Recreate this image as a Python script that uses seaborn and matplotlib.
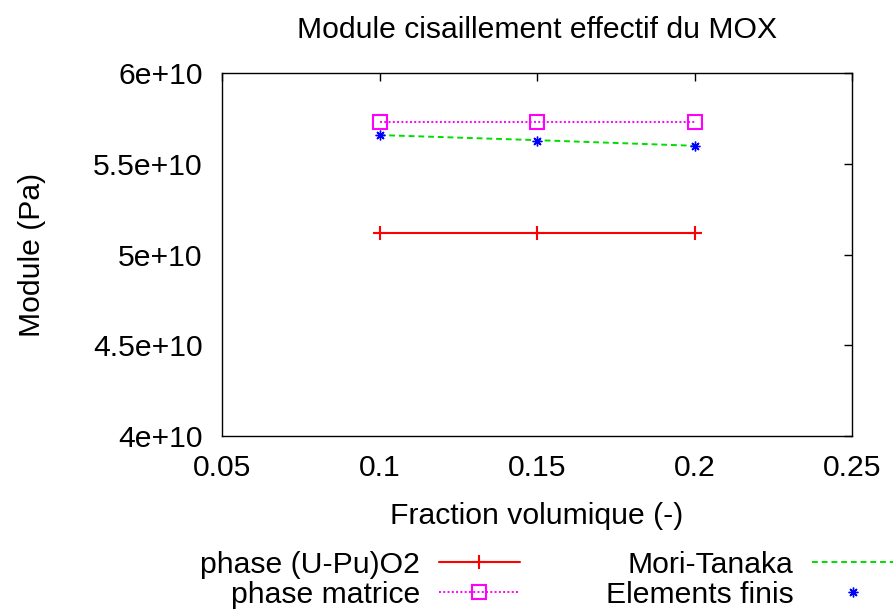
import matplotlib
matplotlib.use("Agg")
import matplotlib.pyplot as plt
import seaborn as sns
import pandas as pd
from matplotlib.ticker import FuncFormatter, MultipleLocator

# ---- data ----
fractions = [0.1, 0.15, 0.2]
phase_upuo2 = [5.118e10, 5.118e10, 5.118e10]
phase_matrice = [5.730e10, 5.730e10, 5.730e10]
mori_tanaka = [5.658e10, 5.630e10, 5.599e10]
elements_finis = [5.658e10, 5.628e10, 5.598e10]

title = "Module cisaillement effectif du MOX"
xlabel = "Fraction volumique (-)"
ylabel = "Module (Pa)"
series_names = ["phase (U-Pu)O2", "phase matrice", "Mori-Tanaka", "Elements finis"]

sns.set_style("white")
plt.rcParams["font.family"] = ["Liberation Sans", "DejaVu Sans"]
plt.rcParams["text.color"] = "black"
plt.rcParams["axes.labelcolor"] = "black"
plt.rcParams["xtick.color"] = "black"
plt.rcParams["ytick.color"] = "black"
FS = 21.7

fig = plt.figure(figsize=(8.93, 6.09), dpi=100)
ax = fig.add_axes([222 / 893, 1 - 436 / 609, (852 - 222) / 893, (436 - 73) / 609])

df = pd.DataFrame({"x": fractions, "a": phase_upuo2, "b": phase_matrice,
                   "c": mori_tanaka, "d": elements_finis})

sns.lineplot(data=df, x="x", y="a", ax=ax, color="#ff0000", lw=1.5,
             marker="+", markersize=9.5, markeredgewidth=1.5, markeredgecolor="#ff0000",
             label=series_names[0], estimator=None, sort=False)
sns.lineplot(data=df, x="x", y="b", ax=ax, color="#ff00ff", lw=1.4, linestyle=(0, (1, 1.2)),
             marker="s", markersize=10, markerfacecolor="none", markeredgecolor="#ff00ff",
             markeredgewidth=1.5, label=series_names[1], estimator=None, sort=False)
sns.lineplot(data=df, x="x", y="c", ax=ax, color="#00dd00", lw=1.4, linestyle=(0, (3, 2)),
             label=series_names[2], estimator=None, sort=False)
sns.lineplot(data=df, x="x", y="d", ax=ax, color="#0000ff", linestyle="",
             marker=(8, 2, 0), markersize=7, markeredgewidth=1.0, markeredgecolor="#0000ff",
             label=series_names[3], estimator=None, sort=False)

ax.set_xlim(0.05, 0.25)
ax.set_ylim(4e10, 6e10)
ax.xaxis.set_major_locator(MultipleLocator(0.05))
ax.yaxis.set_major_locator(MultipleLocator(0.5e10))


def yfmt(v, pos):
    m = v / 1e10
    if abs(m - round(m)) < 1e-9:
        return f"{int(round(m))}e+10"
    return f"{m:g}e+10"


def xfmt(v, pos):
    return f"{v:g}"


ax.yaxis.set_major_formatter(FuncFormatter(yfmt))
ax.xaxis.set_major_formatter(FuncFormatter(xfmt))
ax.tick_params(direction="in", length=6, width=1, top=True, right=True,
               labelsize=FS, colors="black")
ax.tick_params(axis="y", pad=14)
ax.tick_params(axis="x", pad=13)
for s in ax.spines.values():
    s.set_color("black")
    s.set_linewidth(1)

ax.set_title(title, fontsize=FS, pad=25, color="black")
ax.set_xlabel(xlabel, fontsize=FS, labelpad=14)
ax.set_ylabel(ylabel, fontsize=FS, labelpad=34)

handles, labels = ax.get_legend_handles_labels()
ax.get_legend().remove()
fig.legend(handles, labels, ncol=2, markerfirst=False, loc="upper left",
           bbox_to_anchor=(200 / 893, 1 - 551 / 609), frameon=False,
           fontsize=FS, handlelength=2.7, columnspacing=2.85, labelspacing=0.05,
           handletextpad=0.62, numpoints=1, borderpad=0, borderaxespad=0)

fig.savefig("out.png", dpi=100)
